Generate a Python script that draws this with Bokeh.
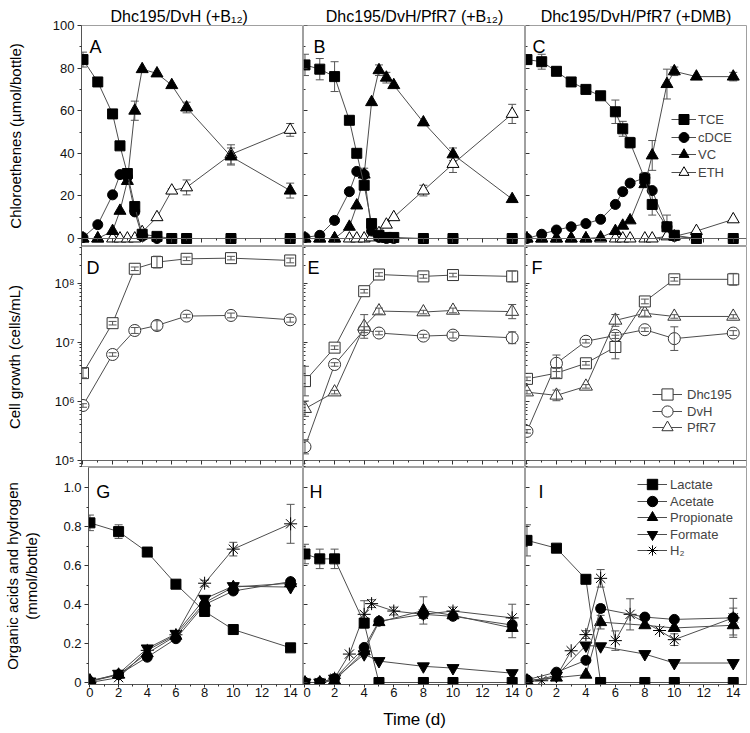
import math
from bokeh.plotting import figure
from bokeh.layouts import row, column
from bokeh.models import (ColumnDataSource, Whisker, TeeHead, Legend, LegendItem,
                          Label, Range1d, FixedTicker, CustomJSTickFormatter, LinearAxis)
from bokeh.embed import file_html
from bokeh.resources import INLINE

FONT = "Liberation Sans"

# ---------------- texts / ticks ----------------
col_titles = ["Dhc195/DvH (+B\u2081\u2082)", "Dhc195/DvH/PfR7 (+B\u2081\u2082)", "Dhc195/DvH/PfR7 (+DMB)"]
panel_letters = [["A", "B", "C"], ["D", "E", "F"], ["G", "H", "I"]]
ylab_chl = "Chloroethenes (\u00b5mol/bottle)"
ylab_cell = "Cell growth (cells/mL)"
ylab_acid_1 = "Organic acids and hydrogen"
ylab_acid_2 = "(mmol/bottle)"
xlab = "Time (d)"

x_ticks = [0, 2, 4, 6, 8, 10, 12, 14]
x_minor = [1, 3, 5, 7, 9, 11, 13]
chl_ticks = [0, 20, 40, 60, 80, 100]
chl_minor = [10, 30, 50, 70, 90]
cell_ticks = [1e5, 1e6, 1e7, 1e8]
cell_tick_labels = ["10\u2075", "10\u2076", "10\u2077", "10\u2078"]
cell_minor = [k * 10.0 ** n for n in range(4, 9) for k in range(2, 10)]
acid_ticks = [0, 0.2, 0.4, 0.6, 0.8, 1.0]
acid_tick_labels = ["0", "0.2", "0.4", "0.6", "0.8", "1.0"]
acid_minor = [0.1, 0.3, 0.5, 0.7, 0.9]

# ---------------- data: chloroethenes (umol/bottle) ----------------
tA = [0, 1, 2, 2.5, 3, 3.5, 4, 5, 6, 7, 10, 14]
A_TCE = [84, 73.5, 58.5, 43.5, 30.5, 15.0, 2.0, 1.0, 0, 0, 0, 0]
A_cDCE = [0.5, 6.5, 20.5, 30.0, 29.0, 12.5, 1.0, 0, 0, 0, 0, 0]
A_VC = [0, 0, 3.5, 13.0, 27.0, 60.0, 79.5, 77.5, 72.0, 61.5, 38.5, 22.5]
A_ETH = [0, 0, 0, 0, 0, 0, 3.0, 10.0, 22.5, 24.0, 39.5, 51.0]
A_TCE_err = [3.5, 0, 0, 0, 0, 1.5, 0, 0, 0, 0, 0, 0]
A_VC_err = [0, 0, 0, 0, 0, 4.5, 0, 0, 0, 2.5, 4.0, 3.5]
A_ETH_err = [0, 0, 0, 0, 0, 0, 0, 0, 0.8, 3.5, 4.5, 3.0]

tB = [0, 1, 2, 3, 3.5, 4, 4.5, 5, 5.5, 6, 8, 10, 14]
B_TCE = [81.5, 79.5, 76.0, 55.5, 40.0, 25.0, 7.0, 1.5, 0.5, 0.5, 0, 0, 0]
B_cDCE = [0.5, 1.5, 8.5, 22.0, 31.5, 30.0, 3.5, 0.5, 0, 0, 0, 0, 0]
B_VC = [0, 0, 0, 5.5, 15.5, 30.0, 64.0, 79.0, 75.5, 72.0, 54.5, 39.5, 18.5]
B_ETH = [0, 0, 0, 0, 0, 0, 0.5, 2.5, 6.5, 10.0, 22.5, 35.0, 58.5]
B_TCE_err = [5.0, 5.0, 7.0, 0, 0, 0, 0, 0, 0, 0, 0, 0, 0]
B_VC_err = [0, 0, 0, 0, 0, 3.0, 0, 2.5, 2.5, 0, 0, 3.0, 0]
B_ETH_err = [0, 0, 0, 0, 0, 0, 0, 0, 0, 0, 2.5, 4.0, 4.5]

tC = [0, 1, 2, 3, 4, 5, 6, 6.5, 7, 8, 8.5, 9.5, 10, 11.5, 14]
C_TCE = [84, 83, 78.5, 73.5, 70.0, 67.0, 59.5, 51.5, 45.0, 28.0, 16.0, 5.5, 1.5, 0, 0]
C_cDCE = [0, 2.0, 4.0, 5.5, 7.0, 9.0, 16.0, 22.0, 26.0, 28.5, 22.5, 5.5, 1.0, 0, 0]
C_VC = [0, 0, 0, 0, 0, 0.5, 3.5, 6.0, 8.5, 25.5, 39.0, 72.5, 78.5, 76.0, 76.0]
C_ETH = [0, 0, 0, 0, 0, 0, 0, 0, 0, 0, 0, 1.0, 1.0, 3.5, 9.0]
C_TCE_err = [0, 3.5, 2.0, 0, 0, 0, 5.5, 3.5, 2.5, 3.0, 5.0, 0, 0, 0, 0]
C_cDCE_err = [0, 0, 0, 0, 0, 0, 0, 0, 0, 0, 0, 5.5, 0, 0, 0]
C_VC_err = [0, 0, 0, 0, 0, 0, 0, 0, 0, 0, 7.0, 7.0, 2.0, 0, 2.0]

# ---------------- data: cell growth (cells/mL); errors in decades ----------------
tD = [0, 2, 3.5, 5, 7, 10, 14]
D_Dhc = [3.0e6, 2.1e7, 1.75e8, 2.27e8, 2.58e8, 2.65e8, 2.42e8]
D_DvH = [8.5e5, 6.2e6, 1.58e7, 1.92e7, 2.77e7, 2.84e7, 2.4e7]
D_Dhc_err = [0.08, 0.03, 0.03, 0.1, 0.03, 0.03, 0.04]
D_DvH_err = [0.03, 0.03, 0.05, 0.08, 0.03, 0.04, 0.04]

tE = [0, 2, 4, 5, 8, 10, 14]
E_Dhc = [2.2e6, 8.1e6, 7.3e7, 1.4e8, 1.3e8, 1.37e8, 1.3e8]
E_DvH = [1.7e5, 4.2e6, 1.63e7, 1.43e7, 1.27e7, 1.32e7, 1.19e7]
E_PfR7 = [7.5e5, 1.43e6, 1.85e7, 3.37e7, 3.24e7, 3.45e7, 3.3e7]
E_Dhc_err = [0.25, 0.03, 0.03, 0.03, 0.03, 0.03, 0.09]
E_DvH_err = [0.12, 0.03, 0.05, 0.03, 0.03, 0.05, 0.1]
E_PfR7_err = [0.13, 0.03, 0.2, 0.05, 0.03, 0.04, 0.12]

tF = [0, 2, 4, 6, 8, 10, 14]
F_Dhc = [2.4e6, 3.0e6, 4.4e6, 8.3e6, 4.9e7, 1.16e8, 1.16e8]
F_DvH = [3.1e5, 4.4e6, 1.04e7, 1.3e7, 1.63e7, 1.15e7, 1.43e7]
F_PfR7 = [1.43e6, 1.26e6, 1.79e6, 2.34e7, 3.1e7, 2.73e7, 2.73e7]
F_Dhc_err = [0.03, 0.08, 0.03, 0.2, 0.04, 0.03, 0.1]
F_DvH_err = [0.03, 0.14, 0.03, 0.05, 0.03, 0.2, 0.04]
F_PfR7_err = [0.03, 0.09, 0.03, 0.1, 0.05, 0.03, 0.03]

# ---------------- data: organic acids and hydrogen (mmol/bottle) ----------------
tG = [0, 2, 4, 6, 8, 10, 14]
G_Lac = [0.82, 0.775, 0.67, 0.505, 0.365, 0.272, 0.178]
G_Ace = [0.005, 0.04, 0.13, 0.225, 0.40, 0.47, 0.518]
G_Pro = [0.01, 0.04, 0.15, 0.24, 0.41, 0.49, 0.51]
G_For = [0.005, 0.045, 0.175, 0.25, 0.43, 0.495, 0.49]
G_H2 = [0.0, 0.025, 0.165, 0.245, 0.51, 0.685, 0.815]
G_Lac_err = [0.04, 0.035, 0.015, 0.02, 0.025, 0, 0]
G_H2_err = [0, 0, 0, 0, 0.015, 0.035, 0.1]

tH = [0, 1, 2, 4, 5, 8, 10, 14]
tH_H2 = [0, 1, 2, 3, 4, 4.5, 6, 8, 10, 14]
H_Lac = [0.66, 0.635, 0.635, 0.305, 0, 0, 0, 0]
H_Ace = [0, 0, 0.02, 0.18, 0.315, 0.35, 0.34, 0.295]
H_Pro = [0, 0, 0.01, 0.16, 0.31, 0.37, 0.345, 0.28]
H_For = [0, 0, 0.02, 0.145, 0.11, 0.083, 0.074, 0.048]
H_H2 = [0, 0, 0.022, 0.146, 0.35, 0.405, 0.367, 0.35, 0.367, 0.332]
H_Lac_err = [0.05, 0.05, 0.05, 0, 0, 0, 0, 0]
H_Pro_err = [0, 0, 0, 0, 0, 0.07, 0, 0.05]
H_H2_err = [0, 0, 0, 0, 0.07, 0.02, 0.02, 0, 0.02, 0.07]

tI = [0, 2, 4, 5, 8, 10, 14]
tI_H2 = [0, 1, 2, 3, 4, 5, 6, 7, 9, 10, 14]
I_Lac = [0.73, 0.69, 0.53, 0, 0, 0, 0]
I_Ace = [0.014, 0.053, 0.114, 0.38, 0.336, 0.324, 0.332]
I_Pro = [0.01, 0.025, 0.04, 0.31, 0.294, 0.28, 0.294]
I_For = [0.005, 0.035, 0.19, 0.186, 0.146, 0.10, 0.10]
I_H2 = [0.005, 0.009, 0.03, 0.163, 0.246, 0.535, 0.215, 0.35, 0.267, 0.22, 0.332]
I_Lac_err = [0.08, 0, 0, 0, 0, 0, 0]
I_Ace_err = [0, 0, 0, 0.02, 0, 0, 0.05]
I_Pro_err = [0, 0, 0, 0.035, 0, 0, 0.05]
I_H2_err = [0, 0, 0, 0, 0.02, 0.045, 0.05, 0.08, 0, 0.03, 0.1]

# ---------------- layout ----------------
FRAME_W = [222, 222, 221]
FRAME_H = [221, 221, 217]
BORDER_L = [81, 0, 0]
BORDER_R = [0, 0, 4]
BORDER_T = [25, 0, 0]
BORDER_B = [0, 0, 49]
X0, X1 = -0.1, 14.9
Y_RANGES = [(-3.75, 100.0), (10 ** 4.88, 10 ** 8.62), (-0.0103, 1.1043)]
X_AXIS_AT = [0, 1e5, None]
AX_COL = "#333333"
FRAME_COL = "#a0a0a0"
CONN = "#4d4d4d"
ERRC = "#555555"

blank = CustomJSTickFormatter(code="return ''")
cell_fmt = CustomJSTickFormatter(args=dict(tv=cell_ticks, tl=cell_tick_labels),
                                 code="const i = tv.indexOf(tick); return i >= 0 ? tl[i] : '';")
acid_fmt = CustomJSTickFormatter(args=dict(tv=acid_ticks, tl=acid_tick_labels),
                                 code="let b = 0; let d = 1e9; for (let k = 0; k < tv.length; k++) { const e = Math.abs(tv[k] - tick); if (e < d) { d = e; b = k; } } return tl[b];")


def style_ticks(ax, tin, tout, mtin, mtout):
    ax.major_tick_line_color = AX_COL
    ax.minor_tick_line_color = AX_COL
    ax.major_tick_in = tin
    ax.major_tick_out = tout
    ax.minor_tick_in = mtin
    ax.minor_tick_out = mtout


def make_panel(r, c):
    p = figure(width=FRAME_W[c] + BORDER_L[c] + BORDER_R[c],
               height=FRAME_H[r] + BORDER_T[r] + BORDER_B[r],
               x_range=Range1d(X0, X1), y_range=Range1d(*Y_RANGES[r]),
               y_axis_type="log" if r == 1 else "linear",
               output_backend="svg", toolbar_location=None,
               min_border=0, min_border_left=BORDER_L[c], min_border_right=BORDER_R[c],
               min_border_top=BORDER_T[r], min_border_bottom=BORDER_B[r])
    p.grid.visible = False
    p.outline_line_color = FRAME_COL
    p.outline_line_width = 1
    p.background_fill_color = "white"
    p.border_fill_color = "white"

    xa = p.xaxis[0]
    xa.ticker = FixedTicker(ticks=x_ticks, minor_ticks=x_minor)
    if r < 2:
        xa.fixed_location = X_AXIS_AT[r]
        xa.axis_line_color = "#666666"
        style_ticks(xa, 0, 4, 0, 2)
        xa.formatter = blank
    else:
        xa.axis_line_color = "#555555"
        style_ticks(xa, 0, 3, 0, 2)
        xa.major_label_text_font = FONT
        xa.major_label_text_font_size = "13px"
        xa.major_label_text_color = "#111111"
        xa.major_label_standoff = 0

    ya = p.yaxis[0]
    if r == 0:
        ya.ticker = FixedTicker(ticks=chl_ticks, minor_ticks=chl_minor)
    elif r == 1:
        ya.ticker = FixedTicker(ticks=cell_ticks, minor_ticks=cell_minor)
    else:
        ya.ticker = FixedTicker(ticks=acid_ticks, minor_ticks=acid_minor)
    if c == 0:
        ya.axis_line_color = "#555555"
        style_ticks(ya, 0, 4, 0, 2)
        ya.major_label_text_font = FONT
        ya.major_label_text_font_size = "13px"
        ya.major_label_text_color = "#111111"
        ya.major_label_standoff = 3
        ya.axis_label_text_font = FONT
        ya.axis_label_text_font_size = "15px"
        ya.axis_label_text_font_style = "normal"
        ya.axis_label_text_color = "#000000"
        if r == 1:
            ya.formatter = cell_fmt
        elif r == 2:
            ya.formatter = acid_fmt
    else:
        ya.fixed_location = X0
        ya.axis_line_color = FRAME_COL
        style_ticks(ya, 4, 0, 2, 0)
        ya.formatter = blank
    return p


def add_series(p, t, y, marker, size, fill, err=None, log=False, line_color="#000000",
               wlevel="underlay"):
    src = ColumnDataSource(data=dict(t=t, y=y))
    ln = p.line("t", "y", source=src, line_color=CONN, line_width=1)
    sc = p.scatter("t", "y", source=src, marker=marker, size=size, fill_color=fill,
                   line_color=line_color, line_width=1)
    if err is not None:
        tt, lo, hi = [], [], []
        for ti, yi, ei in zip(t, y, err):
            if ei > 0:
                tt.append(ti)
                if log:
                    lo.append(yi / 10 ** ei)
                    hi.append(yi * 10 ** ei)
                else:
                    lo.append(yi - ei)
                    hi.append(yi + ei)
        if tt:
            es = ColumnDataSource(data=dict(t=tt, lo=lo, hi=hi))
            w = Whisker(source=es, base="t", lower="lo", upper="hi", dimension="height",
                        line_color=ERRC, line_width=1, level=wlevel,
                        upper_head=TeeHead(size=8, line_color=ERRC, line_width=1),
                        lower_head=TeeHead(size=8, line_color=ERRC, line_width=1))
            p.add_layout(w)
    return ln, sc


def add_legend(p, items, loc, gw, gh, spacing, standoff, fsize="13px"):
    lg = Legend(items=[LegendItem(label=lab, renderers=list(rs)) for lab, rs in items],
                location=loc, orientation="vertical", glyph_width=gw, glyph_height=gh,
                spacing=spacing, padding=0, margin=0, label_standoff=standoff,
                label_text_font=FONT, label_text_font_size=fsize, label_height=10,
                label_width=10, border_line_color=None, background_fill_alpha=0)
    p.add_layout(lg)


def add_text(p, x, y, text, size, align="left", baseline="alphabetic"):
    p.add_layout(Label(x=x, y=y, text=text, text_font=FONT, text_font_size=size,
                       text_align=align, text_baseline=baseline, text_color="#000000"))


panels = [[make_panel(r, c) for c in range(3)] for r in range(3)]

# ---- top row: chloroethenes ----
chl_sets = [
    (tA, A_TCE, A_cDCE, A_VC, A_ETH, A_TCE_err, None, A_VC_err, A_ETH_err),
    (tB, B_TCE, B_cDCE, B_VC, B_ETH, B_TCE_err, None, B_VC_err, B_ETH_err),
    (tC, C_TCE, C_cDCE, C_VC, C_ETH, C_TCE_err, C_cDCE_err, C_VC_err, None),
]
for c, (t, tce, cdce, vc, eth, e1, e2, e3, e4) in enumerate(chl_sets):
    p = panels[0][c]
    r_eth = add_series(p, t, eth, "triangle", 12, "white", e4)
    r_vc = add_series(p, t, vc, "triangle", 12, "black", e3)
    r_cdce = add_series(p, t, cdce, "circle", 10, "black", e2)
    r_tce = add_series(p, t, tce, "square", 10, "black", e1)
    if c == 2:
        add_legend(p, [("TCE", r_tce), ("VC", r_vc)], (146, 79), 25, 26, 9, 2)
        add_legend(p, [("cDCE", r_cdce), ("ETH", r_eth)], (146, 61), 25, 26, 9, 2)

# ---- middle row: cell growth ----
cell_sets = [
    (tD, D_Dhc, D_DvH, None, D_Dhc_err, D_DvH_err, None),
    (tE, E_Dhc, E_DvH, E_PfR7, E_Dhc_err, E_DvH_err, E_PfR7_err),
    (tF, F_Dhc, F_DvH, F_PfR7, F_Dhc_err, F_DvH_err, F_PfR7_err),
]
for c, (t, dhc, dvh, pfr, e1, e2, e3) in enumerate(cell_sets):
    p = panels[1][c]
    r_dvh = add_series(p, t, dvh, "circle", 12, "white", e2, log=True, line_color="#333333",
                       wlevel="annotation")
    r_pfr = None
    if pfr is not None:
        r_pfr = add_series(p, t, pfr, "triangle", 13, "white", e3, log=True,
                           line_color="#333333", wlevel="annotation")
    r_dhc = add_series(p, t, dhc, "square", 11, "white", e1, log=True, line_color="#333333",
                       wlevel="annotation")
    if c == 2:
        add_legend(p, [("Dhc195", r_dhc), ("PfR7", r_pfr)], (127, 26), 30, 28, 5, 5)
        add_legend(p, [("DvH", r_dvh)], (127, 42), 30, 28, 5, 5)

# ---- bottom row: organic acids / hydrogen ----
acid_sets = [
    (tG, tG, G_Lac, G_Ace, G_Pro, G_For, G_H2, G_Lac_err, None, None, G_H2_err),
    (tH, tH_H2, H_Lac, H_Ace, H_Pro, H_For, H_H2, H_Lac_err, None, H_Pro_err, H_H2_err),
    (tI, tI_H2, I_Lac, I_Ace, I_Pro, I_For, I_H2, I_Lac_err, I_Ace_err, I_Pro_err, I_H2_err),
]
for c, (t, th2, lac, ace, pro, frm, h2, e_lac, e_ace, e_pro, e_h2) in enumerate(acid_sets):
    p = panels[2][c]
    r_h2 = add_series(p, th2, h2, "asterisk", 13, "black", e_h2)
    r_for = add_series(p, t, frm, "inverted_triangle", 12, "black")
    r_pro = add_series(p, t, pro, "triangle", 12, "black", e_pro)
    r_ace = add_series(p, t, ace, "circle", 10, "black", e_ace)
    r_lac = add_series(p, t, lac, "square", 10, "black", e_lac)
    if c == 2:
        add_legend(p, [("Lactate", r_lac), ("Propionate", r_pro), ("H\u2082", r_h2)],
                   (112, 121), 30, 26, 7, 3)
        add_legend(p, [("Acetate", r_ace), ("Formate", r_for)], (112, 137), 30, 26, 7, 3)

# ---- panel letters ----
letter_x = [[0.44, 0.58, 0.37], [0.24, 0.17, 0.30], [0.44, 0.30, 0.78]]
letter_y = [89.7, 10 ** 8.248, 0.9785]
for r in range(3):
    for c in range(3):
        add_text(panels[r][c], letter_x[r][c], letter_y[r], panel_letters[r][c], "18px")

# ---- column titles ----
title_align = ["left", "center", "center"]
title_offset = [29, 0, 0]
for c in range(3):
    t = panels[0][c].title
    t.text = col_titles[c]
    t.align = title_align[c]
    t.offset = title_offset[c]
    t.text_font = FONT
    t.text_font_size = "16px"
    t.text_font_style = "normal"
    t.text_color = "#000000"
    t.standoff = 2

# ---- axis titles ----
panels[0][0].yaxis[0].axis_label = ylab_chl
panels[0][0].yaxis[0].axis_label_standoff = 26
panels[1][0].yaxis[0].axis_label = ylab_cell
panels[1][0].yaxis[0].axis_label_standoff = 29
gy = panels[2][0].yaxis[0]
gy.axis_label = ylab_acid_2
gy.axis_label_standoff = 20
outer = LinearAxis(ticker=FixedTicker(ticks=[]), axis_label=ylab_acid_1,
                   axis_line_color=None, major_tick_in=0, major_tick_out=0,
                   minor_tick_in=0, minor_tick_out=0, major_label_standoff=0,
                   axis_label_standoff=0, axis_label_text_font=FONT,
                   axis_label_text_font_size="15px", axis_label_text_font_style="normal",
                   axis_label_text_color="#000000", formatter=blank)
panels[2][0].add_layout(outer, "left")
hx = panels[2][1].xaxis[0]
hx.axis_label = xlab
hx.axis_label_text_font = FONT
hx.axis_label_text_font_size = "17px"
hx.axis_label_text_font_style = "normal"
hx.axis_label_text_color = "#000000"
hx.axis_label_standoff = 10

layout = column(*[row(*panels[r], spacing=0) for r in range(3)], spacing=0)
open("out.html", "w").write(file_html(layout, INLINE))
